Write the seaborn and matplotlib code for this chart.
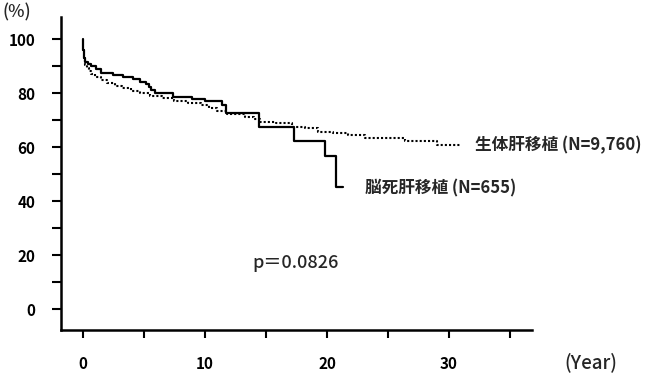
import numpy as np
import pandas as pd
import matplotlib
matplotlib.use('Agg')
import matplotlib.pyplot as plt
import seaborn as sns

# 脳死肝移植 (solid, Kaplan-Meier steps)
ddlt_years = [0, 0.03, 0.08, 0.16, 0.4, 0.7, 1.1, 1.5, 2.5, 3.3, 4.1, 4.7, 5.2, 5.4,
              5.6, 5.9, 7.4, 8.9, 10.0, 11.4, 11.7, 14.4, 17.3, 19.8, 20.7, 21.3]
ddlt_surv = [100, 96.0, 93.0, 91.7, 91.0, 90.3, 89.0, 87.4, 86.8, 86.1, 85.2, 84.3, 83.3, 82.3,
             81.3, 80.2, 78.7, 77.9, 77.1, 75.7, 72.8, 67.4, 62.5, 56.9, 45.4, 45.4]

# 生体肝移植 (dotted)
ldlt_years = [0.1, 0.2, 0.3, 0.5, 0.7, 1.0, 1.5, 2.0, 2.6, 3.2, 3.9, 4.7, 5.5, 6.5, 7.5, 8.6,
              9.7, 10.3, 11.0, 11.8, 13.3, 14.0, 14.5, 15.8, 17.1, 18.2, 19.3, 20.5, 21.7,
              23.1, 26.4, 29.0, 31.0]
ldlt_surv = [92.3, 90.5, 89.5, 88.3, 87.3, 86.0, 84.8, 83.8, 82.9, 82.0, 81.0, 80.1, 79.2, 78.2,
             77.3, 76.4, 75.5, 74.6, 73.6, 72.3, 71.1, 70.5, 69.5, 68.9, 67.6, 67.0, 65.8, 65.3,
             64.6, 63.3, 62.3, 60.9, 60.9]

label_ldlt = '生体肝移植 (N=9,760)'
label_ddlt = '脳死肝移植 (N=655)'
p_text = 'p＝0.0826'

x_ticks = list(range(0, 36, 5))
x_ticklabels = ['0', '', '10', '', '20', '', '30', '']
y_ticks = list(range(0, 101, 10))
y_ticklabels = ['0', '', '20', '', '40', '', '60', '', '80', '', '100']

sns.set_style('ticks')
plt.rcParams['font.family'] = ['Noto Sans CJK JP', 'DejaVu Sans']

df = pd.concat([
    pd.DataFrame({'year': ddlt_years, 'surv': ddlt_surv, 'group': 'ddlt'}),
    pd.DataFrame({'year': ldlt_years, 'surv': ldlt_surv, 'group': 'ldlt'}),
])

fig = plt.figure(figsize=(6.5, 3.75), dpi=100)
ax = fig.add_axes([0.0938, 0.12, 0.7247, 0.8347])

sns.lineplot(data=df[df.group == 'ddlt'], x='year', y='surv', ax=ax, color='black',
             linewidth=1.6, drawstyle='steps-post', estimator=None, sort=False)
sns.lineplot(data=df[df.group == 'ldlt'], x='year', y='surv', ax=ax, color='black',
             linewidth=1.5, linestyle=(0, (1, 1)), drawstyle='steps-post', estimator=None, sort=False)

ax.set_xlim(-1.8, 36.8)
ax.set_ylim(-7.7, 108.3)
ax.set_xticks(x_ticks)
ax.set_xticklabels(x_ticklabels)
ax.set_yticks(y_ticks)
ax.set_yticklabels(y_ticklabels)
ax.set_xlabel('')
ax.set_ylabel('')
for side in ['top', 'right']:
    ax.spines[side].set_visible(False)
for side in ['left', 'bottom']:
    ax.spines[side].set_linewidth(1.8)
    ax.spines[side].set_color('black')
ax.tick_params(axis='x', length=6, width=1.5, pad=13, labelsize=11, colors='black')
ax.tick_params(axis='y', length=6.5, width=1.5, pad=12, labelsize=11, colors='black')
for lbl in ax.get_xticklabels() + ax.get_yticklabels():
    lbl.set_fontweight('bold')

ax.text(32.1, 60.9, label_ldlt, fontsize=12, fontweight='bold', va='center', ha='left')
ax.text(23.1, 44.9, label_ddlt, fontsize=12, fontweight='bold', va='center', ha='left')
ax.text(13.85, 17.1, p_text, fontsize=13, fontweight='medium', va='center', ha='left')

fig.text(3 / 650, 1 - 12 / 375, '(%)', fontsize=12.5, fontweight='medium', va='center', ha='left')
fig.text(591 / 650, 1 - 362 / 375, '(Year)', fontsize=13.5, fontweight='medium', va='center', ha='center')

fig.savefig('out.png', dpi=100)
